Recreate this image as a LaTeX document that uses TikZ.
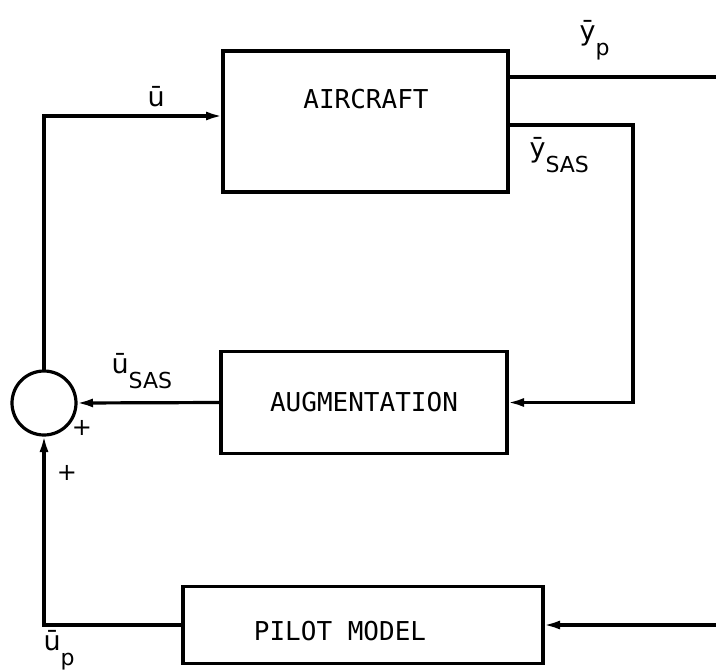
\documentclass[tikz,border=0pt]{standalone}
\usepackage{fontspec}
\setmainfont{DejaVu Sans Mono}
\newfontfamily\labelfont{DejaVu Sans}
\usetikzlibrary{arrows.meta}

\newcommand{\sigsub}[1]{\raisebox{-15pt}{\fontsize{22}{26}\selectfont #1}}

\begin{document}
\begin{tikzpicture}[
  x=1pt, y=-1pt,
  line width=3.2pt,
  blk/.style    ={draw, rectangle, inner sep=0pt, outer sep=0pt},
  blktext/.style={font=\fontsize{26}{30}\selectfont},
  sig/.style    ={font=\labelfont\fontsize{27}{32}\selectfont, inner sep=0pt},
  sgn/.style    ={font=\labelfont\fontsize{24}{28}\selectfont, inner sep=0pt},
  sumnode/.style={draw, circle, minimum size=64pt, inner sep=0pt, outer sep=0pt},
  flow/.style   ={-{Latex[length=17pt,width=9pt]}}
]
\useasboundingbox (0,0) rectangle (716,672);

% ---------- Blocks ----------
\node[blk, minimum width=285pt, minimum height=141pt] (aircraft) at (365.5,121.5) {};
\node[blktext] (aircraft text) at (366,99) {AIRCRAFT};
\node[blk, blktext, minimum width=286pt, minimum height=102pt] (aug) at (364,402.5) {AUGMENTATION};
\node[blk, minimum width=360pt, minimum height=77pt] (pilot) at (363,625) {};
\node[blktext] (pilot text) at (340,631) {PILOT MODEL};
\node[sumnode] (sum) at (44,403) {};

% ---------- Free ends ----------
\coordinate (yp end)   at (716,77);
\coordinate (pilot in) at (716,625);

% ---------- Connectors ----------
\draw[flow] (sum.north) |- ([yshift=5.5pt]aircraft.west);
\draw       ([yshift=44.5pt]aircraft.east) -- (yp end);
\draw[flow] ([yshift=-3.5pt]aircraft.east) -- ++(125,0) |- (aug.east);
\draw[flow] (aug.west) -- (sum.east);
\draw[flow] (pilot in) -- (pilot.east);
\draw[flow] (pilot.west) -| (sum.south);

% ---------- Signal labels ----------
\node[sig, anchor=base west] (u lbl)    at (146,106) {ū};
\node[sig, anchor=base west] (yp lbl)   at (578,40)  {ȳ\sigsub{p}};
\node[sig, anchor=base west] (ysas lbl) at (528,157) {ȳ\sigsub{SAS}};
\node[sig, anchor=base west] (usas lbl) at (110,373) {ū\sigsub{SAS}};
\node[sig, anchor=base west] (up lbl)   at (42,650)  {ū\sigsub{p}};
\node[sgn] (plus a) at (82,428) {+};
\node[sgn] (plus b) at (67,473) {+};

\end{tikzpicture}
\end{document}
